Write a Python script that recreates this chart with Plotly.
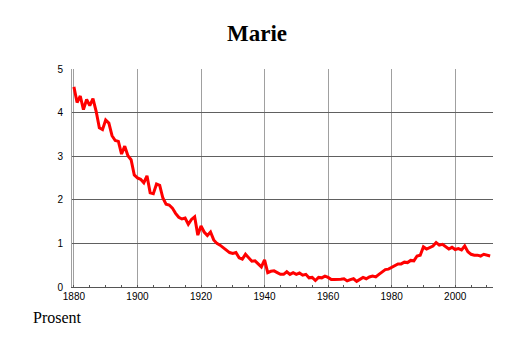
import plotly.graph_objects as go

years = list(range(1880, 2012))
values = [
    4.59, 4.23, 4.38, 4.07, 4.30, 4.16, 4.32, 4.03, 3.65, 3.61,  # 1880-1889
    3.83, 3.76, 3.47, 3.36, 3.34, 3.05, 3.23, 3.01, 2.92, 2.57,  # 1890-1899
    2.50, 2.47, 2.39, 2.55, 2.16, 2.14, 2.36, 2.33, 2.04, 1.90,  # 1900-1909
    1.88, 1.81, 1.69, 1.60, 1.56, 1.58, 1.44, 1.55, 1.61, 1.19,  # 1910-1919
    1.40, 1.26, 1.18, 1.26, 1.08, 1.00, 0.96, 0.90, 0.86, 0.79,  # 1920-1929
    0.77, 0.79, 0.67, 0.64, 0.75, 0.68, 0.59, 0.60, 0.52, 0.46,  # 1930-1939
    0.62, 0.33, 0.36, 0.37, 0.33, 0.29, 0.29, 0.35, 0.29, 0.33,  # 1940-1949
    0.29, 0.32, 0.27, 0.29, 0.21, 0.22, 0.15, 0.22, 0.21, 0.25,  # 1950-1959
    0.22, 0.17, 0.17, 0.17, 0.18, 0.19, 0.14, 0.17, 0.19, 0.13,  # 1960-1969
    0.17, 0.22, 0.19, 0.23, 0.25, 0.23, 0.29, 0.35, 0.40, 0.41,  # 1970-1979
    0.45, 0.48, 0.53, 0.53, 0.57, 0.56, 0.61, 0.60, 0.71, 0.73,  # 1980-1989
    0.92, 0.87, 0.91, 0.94, 1.02, 0.96, 0.98, 0.92, 0.87, 0.91,  # 1990-1999
    0.86, 0.88, 0.85, 0.94, 0.81, 0.75, 0.73, 0.73, 0.71, 0.75,  # 2000-2009
    0.73, 0.71,                                                  # 2010-2011
]

x_ticks = [1880, 1900, 1920, 1940, 1960, 1980, 2000]
y_ticks = [0, 1, 2, 3, 4, 5]
title_text = "Marie"
unit_text = "Prosent"

fig = go.Figure()
fig.add_trace(go.Scatter(
    x=years, y=values, mode="lines",
    line=dict(color="#ff0000", width=3),
    hoverinfo="skip", showlegend=False,
))

fig.update_layout(
    width=514, height=343,
    margin=dict(l=72, r=21, t=69, b=56),
    paper_bgcolor="white", plot_bgcolor="white",
    title=dict(
        text="<b>" + title_text + "</b>",
        font=dict(family="Liberation Serif", size=23, color="black"),
        x=0.5, xref="container", xanchor="center",
        y=1 - 33 / 343, yref="container", yanchor="middle",
    ),
    annotations=[dict(
        text=unit_text, xref="paper", yref="paper",
        x=-0.097, y=-0.142, xanchor="left", yanchor="middle",
        showarrow=False,
        font=dict(family="Liberation Serif", size=16, color="black"),
    )],
)

fig.update_xaxes(
    range=[1879.4, 2011.9], tickvals=x_ticks, ticktext=[str(v) for v in x_ticks],
    showgrid=True, gridcolor="#a0a0a0", gridwidth=1,
    zeroline=False, showline=True, linecolor="#555555", linewidth=1,
    ticks="", ticklabelstandoff=0,
    minor=dict(dtick=5, tick0=1880, ticks="inside", ticklen=2, tickcolor="#555555", showgrid=False),
    tickfont=dict(family="Liberation Sans", size=10, color="black"),
    fixedrange=True,
)
fig.update_yaxes(
    range=[0, 5], tickvals=y_ticks, ticktext=[str(v) for v in y_ticks],
    showgrid=True, gridcolor="#606060", gridwidth=1,
    zeroline=False, showline=True, linecolor="#a0a0a0", linewidth=1,
    ticks="", ticklabelstandoff=6,
    tickfont=dict(family="Liberation Sans", size=10, color="black"),
    fixedrange=True,
)

fig.write_html("out.html")
